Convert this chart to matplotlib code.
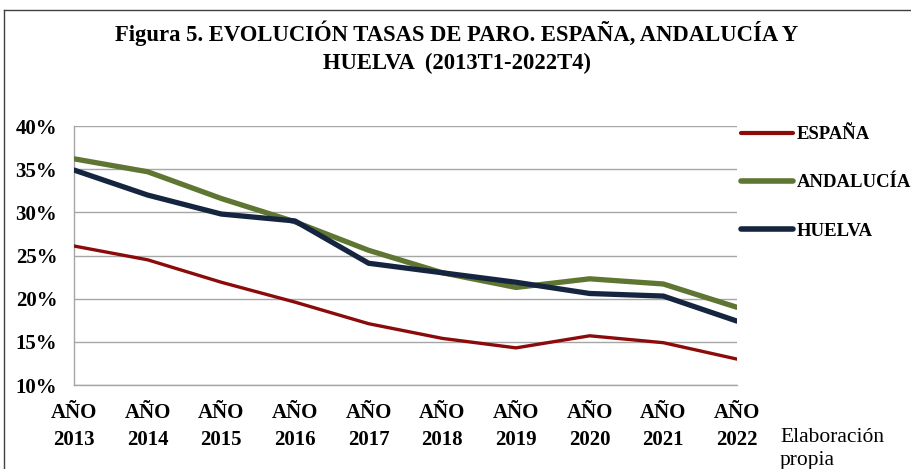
import matplotlib.pyplot as plt
from matplotlib.lines import Line2D

# tasas de paro (%) por año
years = ["AÑO\n2013", "AÑO\n2014", "AÑO\n2015", "AÑO\n2016", "AÑO\n2017",
         "AÑO\n2018", "AÑO\n2019", "AÑO\n2020", "AÑO\n2021", "AÑO\n2022"]
espana = [26.1, 24.5, 21.9, 19.6, 17.1, 15.4, 14.3, 15.7, 14.9, 13.0]
andalucia = [36.2, 34.7, 31.6, 28.9, 25.6, 23.0, 21.3, 22.3, 21.7, 19.0]
huelva = [34.9, 32.0, 29.8, 29.0, 24.1, 23.0, 21.9, 20.6, 20.3, 17.4]

y_ticks = [10, 15, 20, 25, 30, 35, 40]

serif = "Liberation Serif"
c_esp = "#8B0A0A"
c_and = "#5F7532"
c_hue = "#15253F"

fig = plt.figure(figsize=(9.12, 4.69), dpi=100)
ax = fig.add_axes([74 / 912, 1 - 385 / 469, (737 - 74) / 912, (385 - 126) / 469])

x = range(len(years))
ax.plot(x, espana, color=c_esp, lw=2.4, solid_capstyle="round", zorder=3)
ax.plot(x, andalucia, color=c_and, lw=3.8, solid_capstyle="round", zorder=3)
ax.plot(x, huelva, color=c_hue, lw=3.8, solid_capstyle="round", zorder=4)

ax.set_xlim(0, len(years) - 1)
ax.set_ylim(10, 40)
ax.set_yticks(y_ticks)
ax.set_yticklabels([f"{v}%" for v in y_ticks], fontfamily=serif,
                   fontweight="bold", fontsize=15)
ax.set_xticks(list(x))
ax.set_xticklabels(years, fontfamily=serif, fontweight="bold", fontsize=15,
                   linespacing=1.45)
ax.tick_params(length=0, pad=13)
ax.tick_params(axis="y", pad=12)
ax.grid(axis="y", color="#A6A6A6", lw=1)
ax.set_axisbelow(True)
for s in ["top", "right"]:
    ax.spines[s].set_visible(False)
for s in ["left", "bottom"]:
    ax.spines[s].set_color("#A6A6A6")
    ax.spines[s].set_linewidth(1)

handles = [Line2D([], [], color=c_esp, lw=3, solid_capstyle="round"),
           Line2D([], [], color=c_and, lw=4, solid_capstyle="round"),
           Line2D([], [], color=c_hue, lw=4, solid_capstyle="round")]
fig.legend(handles, ["ESPAÑA", "ANDALUCÍA", "HUELVA"],
           loc="upper left", bbox_to_anchor=(741 / 912, 1 - 126 / 469),
           frameon=False, handlelength=2.75, handletextpad=0.22,
           borderpad=0, borderaxespad=0,
           labelspacing=1.66, prop={"family": serif, "weight": "bold", "size": 13.5})

fig.text(457 / 912, 1 - 47 / 469,
         "Figura 5. EVOLUCIÓN TASAS DE PARO. ESPAÑA, ANDALUCÍA Y\nHUELVA  (2013T1-2022T4)",
         ha="center", va="center", fontfamily=serif, fontweight="bold",
         fontsize=16.3, linespacing=1.45)

fig.text(780 / 912, 1 - 449 / 469, "Elaboración\npropia", ha="left", va="center",
         fontfamily=serif, fontsize=15.5, linespacing=1.3)

# marco
fig.add_artist(Line2D([4 / 912, 4 / 912], [0, 1 - 10 / 469], color="#404040", lw=1))
fig.add_artist(Line2D([4 / 912, 1], [1 - 10 / 469, 1 - 10 / 469], color="#404040", lw=1))

fig.savefig("out.png", dpi=100)
